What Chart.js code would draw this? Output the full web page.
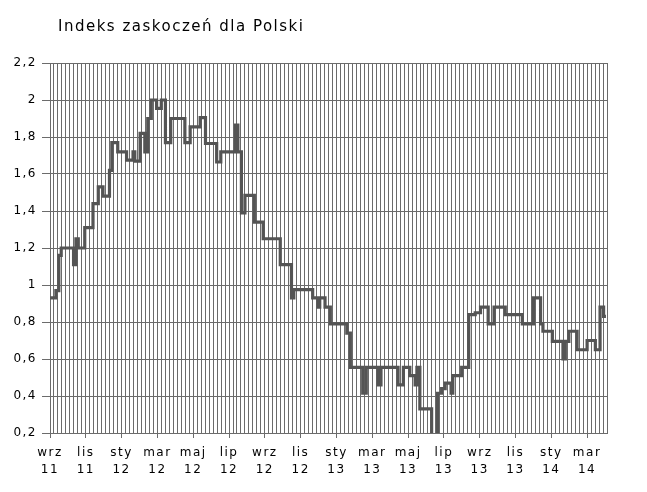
<!DOCTYPE html>
<html>
<head>
<meta charset="utf-8">
<title>Indeks zaskoczeń dla Polski</title>
<script src="https://cdn.jsdelivr.net/npm/chart.js@4.4.0/dist/chart.umd.min.js"></script>
<style>
  html, body { margin: 0; padding: 0; background: #fff; }
</style>
</head>
<body>
<canvas id="myChart" width="647" height="492"></canvas>
<script>
// days counted from 1 Sep 2011, the index holds its value until the next change
var changeDays = [0, 10, 15, 19, 40, 44, 48, 59, 73, 82, 90, 101, 105, 115, 130, 141, 144, 153, 161, 166,
  172, 181, 189, 196, 205, 229, 238, 255, 264, 283, 290, 315, 319, 325, 331, 347, 362, 391, 410, 414,
  446, 455, 458, 467, 476, 504, 510, 531, 537, 557, 562, 591, 600, 611, 620, 623, 628, 648, 658, 665,
  671, 681, 684, 699, 711, 722, 731, 744, 754, 773, 802, 821, 833, 837, 853, 871, 875, 881, 895, 912,
  926, 934, 940, 944];
var indexValues = [0.93, 0.97, 1.16, 1.20, 1.11, 1.25, 1.20, 1.31, 1.44, 1.53, 1.48, 1.62, 1.77, 1.72, 1.675, 1.72, 1.67, 1.82, 1.72, 1.90,
  2.00, 1.955, 2.00, 1.77, 1.90, 1.77, 1.855, 1.905, 1.765, 1.665, 1.72, 1.865, 1.72, 1.39, 1.485, 1.34, 1.25, 1.11, 0.93, 0.975,
  0.93, 0.88, 0.93, 0.88, 0.79, 0.74, 0.555, 0.415, 0.555, 0.46, 0.555, 0.46, 0.555, 0.51, 0.46, 0.555, 0.33, 0.15, 0.415, 0.44,
  0.47, 0.415, 0.51, 0.555, 0.84, 0.85, 0.88, 0.79, 0.88, 0.84, 0.79, 0.93, 0.79, 0.75, 0.695, 0.60, 0.695, 0.75, 0.65, 0.70,
  0.65, 0.88, 0.83, 0.83];

var monthLabels = [['wrz', '11'], ['lis', '11'], ['sty', '12'], ['mar', '12'], ['maj', '12'], ['lip', '12'],
  ['wrz', '12'], ['lis', '12'], ['sty', '13'], ['mar', '13'], ['maj', '13'], ['lip', '13'],
  ['wrz', '13'], ['lis', '13'], ['sty', '14'], ['mar', '14']];
var yTickValues = [0.2, 0.4, 0.6, 0.8, 1, 1.2, 1.4, 1.6, 1.8, 2, 2.2];
var yTickLabels = ['0,2', '0,4', '0,6', '0,8', '1', '1,2', '1,4', '1,6', '1,8', '2', '2,2'];

// 9 vertical grid lines per two months, 140 across the plot
var GRID_STEP = 912 / 135;
var GRID_COUNT = 140;
var gridColor = '#6b6b6b';

var points = changeDays.map(function (d, i) { return { x: d, y: indexValues[i] }; });

var spacing = {
  id: 'spacing',
  beforeDraw: function (chart) { chart.ctx.letterSpacing = '1.5px'; },
  afterLayout: function (chart) {
    if (chart.titleBlock) { chart.titleBlock.left += 8; chart.titleBlock.right += 8; }
  }
};

var ctx = document.getElementById('myChart').getContext('2d');
var chart = new Chart(ctx, {
  type: 'line',
  data: {
    datasets: [{
      data: points,
      stepped: true,
      borderColor: '#545454',
      borderWidth: 3.2,
      pointRadius: 0,
      fill: false
    }]
  },
  plugins: [spacing],
  options: {
    responsive: false,
    animation: false,
    layout: { padding: { left: 0, right: 40, top: 0, bottom: 0 } },
    plugins: {
      legend: { display: false },
      tooltip: { enabled: false },
      title: {
        display: true,
        text: 'Indeks zaskoczeń dla Polski',
        align: 'start',
        fullSize: false,
        color: '#000',
        font: { family: 'DejaVu Sans', size: 15, weight: 'normal' },
        padding: { top: 18, bottom: 27 }
      }
    },
    scales: {
      x: {
        type: 'linear',
        min: 0,
        max: GRID_COUNT * GRID_STEP,
        afterBuildTicks: function (scale) {
          var t = [];
          for (var k = 0; k <= GRID_COUNT; k++) t.push({ value: k * GRID_STEP });
          scale.ticks = t;
        },
        afterFit: function (scale) { scale.height = 59; },
        grid: {
          color: gridColor,
          lineWidth: 1,
          tickLength: 5,
          tickColor: function (c) {
            return (c.index % 9 === 0 && c.index / 9 < monthLabels.length) ? gridColor : 'rgba(0,0,0,0)';
          }
        },
        border: { color: gridColor },
        ticks: {
          autoSkip: false,
          maxRotation: 0,
          padding: 6,
          color: '#000',
          font: { family: 'DejaVu Sans', size: 12, lineHeight: 1.45 },
          callback: function (v, i) {
            return i % 9 === 0 ? (monthLabels[i / 9] || '') : '';
          }
        }
      },
      y: {
        min: 0.2,
        max: 2.2,
        afterBuildTicks: function (scale) {
          scale.ticks = yTickValues.map(function (v) { return { value: v }; });
        },
        afterFit: function (scale) { scale.width = 50; },
        grid: { color: gridColor, lineWidth: 1, tickLength: 8 },
        border: { color: gridColor },
        ticks: {
          padding: 5,
          color: '#000',
          font: { family: 'DejaVu Sans', size: 12 },
          callback: function (v, i) { return yTickLabels[i]; }
        }
      }
    }
  }
});
</script>
</body>
</html>
